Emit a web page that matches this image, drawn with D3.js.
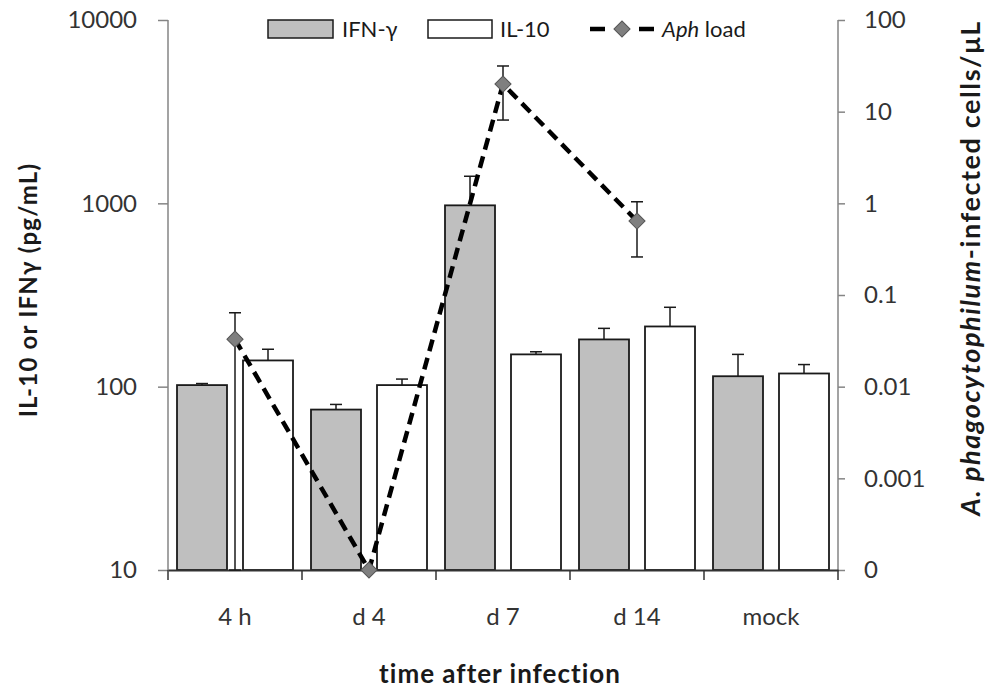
<!doctype html>
<html>
	<head>
		<title>IL-10 / IFN-gamma and Aph load</title>
		<script src="https://d3js.org/d3.v7.min.js"></script>
		<style>
		body { margin: 0; background: #fff; }
		svg { display: block; font-family: Lato, "Open Sans", sans-serif; }
		.axis text { font-size: 24px; fill: #333; font-family: Lato, "Open Sans", sans-serif; }
		</style>
	</head>
	<body>
		<svg width="988" height="689"></svg>
		<script>
		// values
		var categories = ["4 h", "d 4", "d 7", "d 14", "mock"];
		var ifnValues  = [102, 75, 975, 181, 114];
		var ifnErrors  = [2, 5, 430, 27, 36];
		var il10Values = [139, 102, 150, 213, 118];
		var il10Errors = [21, 8, 5, 58, 14];

		var aphCategories = ["4 h", "d 4", "d 7", "d 14"];
		var aphLoad = [0.033, 0, 20, 0.64];
		var aphLow  = [0.00006, null, 8.1, 0.26];
		var aphHigh = [0.064, null, 31.5, 1.04];

		var leftTicks  = [10, 100, 1000, 10000];
		var rightTicks = [0.0001, 0.001, 0.01, 0.1, 1, 10, 100];
		var rightTickLabels = ["0", "0.001", "0.01", "0.1", "1", "10", "100"];

		var svg = d3.select("svg");
		var plotLeft = 168, plotRight = 838, plotTop = 20, plotBottom = 570;

		var x = d3.scaleBand().domain(categories).range([plotLeft, plotRight]);
		var y = d3.scaleLog().domain([10, 10000]).range([plotBottom, plotTop]);
		var y2 = d3.scaleLog().domain([0.0001, 100]).range([plotBottom, plotTop]);
		function y2v(v) { return y2(Math.max(v, 0.0001)); }

		var barW = 50, pad = 9, gap = x.bandwidth() - 2 * pad - 2 * barW;
		var series = [
			{ name: "IFN-γ", values: ifnValues, errors: ifnErrors, fill: "#bfbfbf", offset: pad },
			{ name: "IL-10", values: il10Values, errors: il10Errors, fill: "#ffffff", offset: pad + barW + gap }
		];

		// bars
		series.forEach(function(s) {
			var g = svg.append("g");
			g.selectAll("rect").data(categories).enter().append("rect")
				.attr("x", function(c) { return x(c) + s.offset; })
				.attr("y", function(c, i) { return y(s.values[i]); })
				.attr("width", barW)
				.attr("height", function(c, i) { return plotBottom - y(s.values[i]); })
				.attr("fill", s.fill)
				.attr("stroke", "#1a1a1a")
				.attr("stroke-width", 1.8);

			// plus-only error bars
			var e = g.selectAll("g.err").data(categories).enter().append("g")
				.attr("stroke", "#1a1a1a").attr("stroke-width", 1.5);
			e.append("line")
				.attr("x1", function(c) { return x(c) + s.offset + barW / 2; })
				.attr("x2", function(c) { return x(c) + s.offset + barW / 2; })
				.attr("y1", function(c, i) { return y(s.values[i]); })
				.attr("y2", function(c, i) { return y(s.values[i] + s.errors[i]); });
			e.append("line")
				.attr("x1", function(c) { return x(c) + s.offset + barW / 2 - 6; })
				.attr("x2", function(c) { return x(c) + s.offset + barW / 2 + 6; })
				.attr("y1", function(c, i) { return y(s.values[i] + s.errors[i]); })
				.attr("y2", function(c, i) { return y(s.values[i] + s.errors[i]); });
		});

		// axes
		var axisColor = "#858585";
		var gl = svg.append("g").attr("class", "axis")
			.attr("transform", "translate(" + plotLeft + ",0)")
			.call(d3.axisLeft(y).tickValues(leftTicks).tickFormat(d3.format("d")).tickSize(10).tickPadding(21));
		var gr = svg.append("g").attr("class", "axis")
			.attr("transform", "translate(" + plotRight + ",0)")
			.call(d3.axisRight(y2).tickValues(rightTicks)
				.tickFormat(function(d, i) { return rightTickLabels[i]; })
				.tickSize(7).tickPadding(19));
		var gb = svg.append("g").attr("class", "axis")
			.attr("transform", "translate(0," + plotBottom + ")")
			.call(d3.axisBottom(x).tickSize(0).tickPadding(38));
		gb.select(".domain").attr("stroke", "#333").attr("stroke-width", 1.8);
		// category boundary ticks
		gb.selectAll("line.sep").data(categories.concat([null])).enter().append("line")
			.attr("class", "sep")
			.attr("x1", function(c, i) { return plotLeft + i * x.bandwidth(); })
			.attr("x2", function(c, i) { return plotLeft + i * x.bandwidth(); })
			.attr("y1", 0).attr("y2", 10)
			.attr("stroke", "#333").attr("stroke-width", 1.5);
		[gl, gr].forEach(function(g) {
			g.selectAll(".domain, .tick line").attr("stroke", axisColor).attr("stroke-width", 1.5);
			g.select(".domain").attr("d", "M0," + plotTop + "V" + plotBottom);
		});

		// Aph load line
		var cx = function(c) { return x(c) + x.bandwidth() / 2; };
		var line = d3.line()
			.x(function(d) { return cx(d.c); })
			.y(function(d) { return y2v(d.v); });
		var aph = aphCategories.map(function(c, i) { return { c: c, v: aphLoad[i], lo: aphLow[i], hi: aphHigh[i] }; });

		svg.append("path").datum(aph)
			.attr("d", line)
			.attr("fill", "none")
			.attr("stroke", "#000")
			.attr("stroke-width", 4.5)
			.attr("stroke-dasharray", "12,7");

		var eb = svg.append("g").attr("stroke", "#1a1a1a").attr("stroke-width", 1.5)
			.selectAll("g").data(aph.filter(function(d) { return d.lo !== null; })).enter().append("g");
		eb.append("line")
			.attr("x1", function(d) { return cx(d.c); }).attr("x2", function(d) { return cx(d.c); })
			.attr("y1", function(d) { return y2v(d.lo); }).attr("y2", function(d) { return y2v(d.hi); });
		["lo", "hi"].forEach(function(k) {
			eb.append("line")
				.attr("x1", function(d) { return cx(d.c) - 6; }).attr("x2", function(d) { return cx(d.c) + 6; })
				.attr("y1", function(d) { return y2v(d[k]); }).attr("y2", function(d) { return y2v(d[k]); });
		});

		var diamond = d3.symbol(d3.symbolSquare, 130);
		svg.append("g").selectAll("path").data(aph).enter().append("path")
			.attr("d", diamond)
			.attr("transform", function(d) { return "translate(" + cx(d.c) + "," + y2v(d.v) + ") rotate(45)"; })
			.attr("fill", "#7f7f7f")
			.attr("stroke", "#555")
			.attr("stroke-width", 1);

		// legend
		var lg = svg.append("g").style("font-size", "22px").attr("fill", "#1a1a1a");
		lg.append("rect").attr("x", 268).attr("y", 20).attr("width", 65).attr("height", 18)
			.attr("fill", "#bfbfbf").attr("stroke", "#1a1a1a").attr("stroke-width", 1.5);
		lg.append("text").attr("x", 342).attr("y", 37).text("IFN-γ");
		lg.append("rect").attr("x", 428).attr("y", 20).attr("width", 64).attr("height", 18)
			.attr("fill", "#fff").attr("stroke", "#1a1a1a").attr("stroke-width", 1.5);
		lg.append("text").attr("x", 500).attr("y", 37).text("IL-10");
		lg.append("line").attr("x1", 590).attr("x2", 654).attr("y1", 29).attr("y2", 29)
			.attr("stroke", "#000").attr("stroke-width", 4.5).attr("stroke-dasharray", "15,34");
		lg.append("path").attr("d", diamond)
			.attr("transform", "translate(622,29) rotate(45)")
			.attr("fill", "#7f7f7f").attr("stroke", "#555");
		var lt = lg.append("text").attr("x", 662).attr("y", 37);
		lt.append("tspan").attr("font-style", "italic").text("Aph");
		lt.append("tspan").text(" load");

		// axis titles
		svg.append("text")
			.attr("transform", "translate(29,290) rotate(-90)")
			.attr("text-anchor", "middle").attr("dy", "0.35em")
			.style("font-size", "24px").style("font-weight", "bold").style("letter-spacing", "1.2px")
			.attr("fill", "#1a1a1a")
			.text("IL-10 or IFNγ (pg/mL)");

		var rt = svg.append("text")
			.attr("transform", "translate(971,268) rotate(-90)")
			.attr("text-anchor", "middle").attr("dy", "0.35em")
			.style("font-size", "27px").style("font-weight", "bold").style("letter-spacing", "1.6px")
			.attr("fill", "#1a1a1a");
		rt.append("tspan").attr("font-style", "italic").text("A. phagocytophilum");
		rt.append("tspan").text("-infected cells/μL");

		svg.append("text")
			.attr("x", 500).attr("y", 683)
			.attr("text-anchor", "middle")
			.style("font-size", "26px").style("font-weight", "bold").style("letter-spacing", "1px")
			.attr("fill", "#1a1a1a")
			.text("time after infection");
		</script>
	</body>
</html>
